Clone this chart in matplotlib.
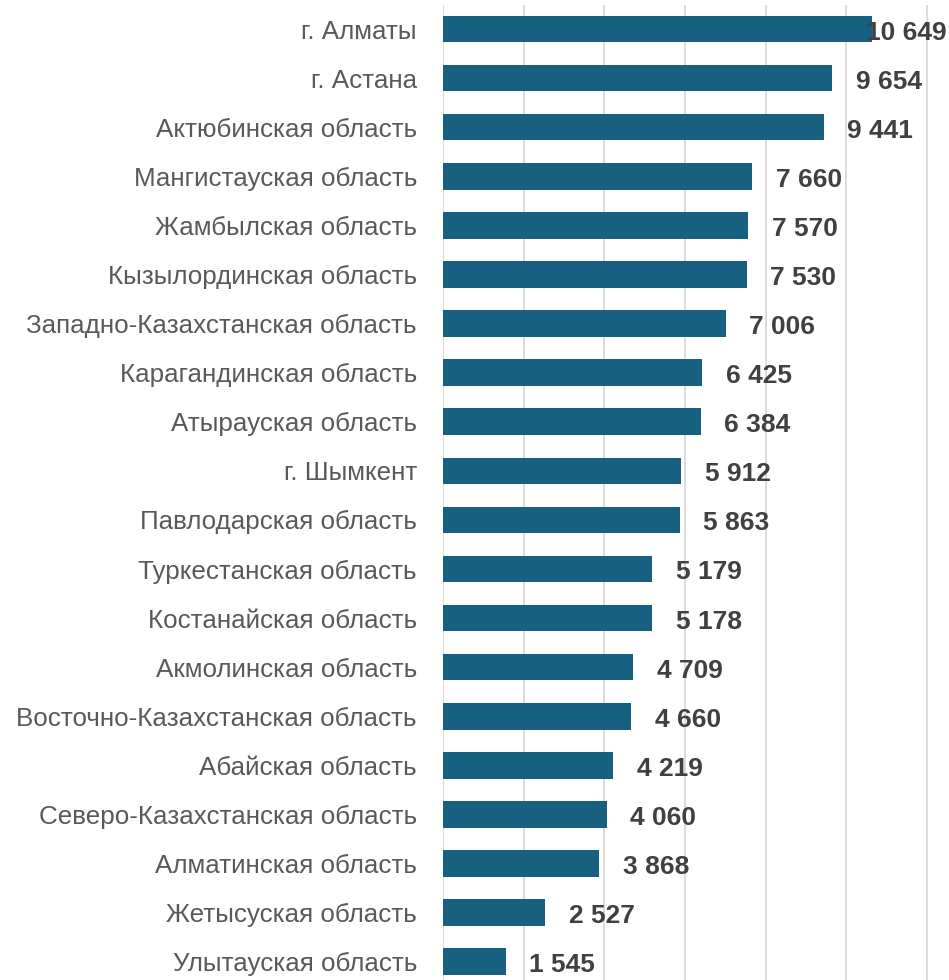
import matplotlib
matplotlib.use("Agg")
import matplotlib.pyplot as plt
import matplotlib.transforms as mtransforms

regions = [
    "г. Алматы", "г. Астана", "Актюбинская область", "Мангистауская область",
    "Жамбылская область", "Кызылординская область", "Западно-Казахстанская область",
    "Карагандинская область", "Атырауская область", "г. Шымкент",
    "Павлодарская область", "Туркестанская область", "Костанайская область",
    "Акмолинская область", "Восточно-Казахстанская область", "Абайская область",
    "Северо-Казахстанская область", "Алматинская область", "Жетысуская область",
    "Улытауская область",
]
values = [10649, 9654, 9441, 7660, 7570, 7530, 7006, 6425, 6384, 5912,
          5863, 5179, 5178, 4709, 4660, 4219, 4060, 3868, 2527, 1545]

bar_color = "#17607F"

plt.rcParams['font.family'] = ['Liberation Sans', 'DejaVu Sans']

fig = plt.figure(figsize=(9.49, 9.8), dpi=100)
ax = fig.add_axes([443.3 / 949, 0, 1 - 443.3 / 949, 1 - 5 / 980])

pos = list(range(len(values)))
ax.barh(pos, values, height=0.54, color=bar_color, zorder=3)

ax.set_xlim(0, 12552)
ax.set_ylim(19.373, -0.49)
ax.set_xticks(range(0, 12001, 2000))
ax.grid(axis="x", color="#D9D9D9", linewidth=1.3, zorder=0)
ax.tick_params(axis="x", length=0, labelbottom=False)
ax.tick_params(axis="y", length=0, pad=19)
ax.set_yticks(pos)
ax.set_yticklabels(regions, fontsize=18.7, color="#595959")
for s in ax.spines.values():
    s.set_visible(False)

def fmt(v):
    return f"{v:,}".replace(",", " ")

trans = mtransforms.blended_transform_factory(ax.transAxes, ax.transData)
vmax = max(values)
for p, v in zip(pos, values):
    if v == vmax:
        # keep the biggest label inside the chart area
        ax.annotate(fmt(v), xy=(1, p), xycoords=trans, xytext=(-2, -2.5),
                    textcoords="offset points", ha="right", va="center",
                    fontsize=19, fontweight="bold", color="#404040", zorder=4)
    else:
        ax.annotate(fmt(v), xy=(v, p), xytext=(17, -2.5),
                    textcoords="offset points", ha="left", va="center",
                    fontsize=19, fontweight="bold", color="#404040", zorder=4)

fig.savefig("out.png", dpi=100)
